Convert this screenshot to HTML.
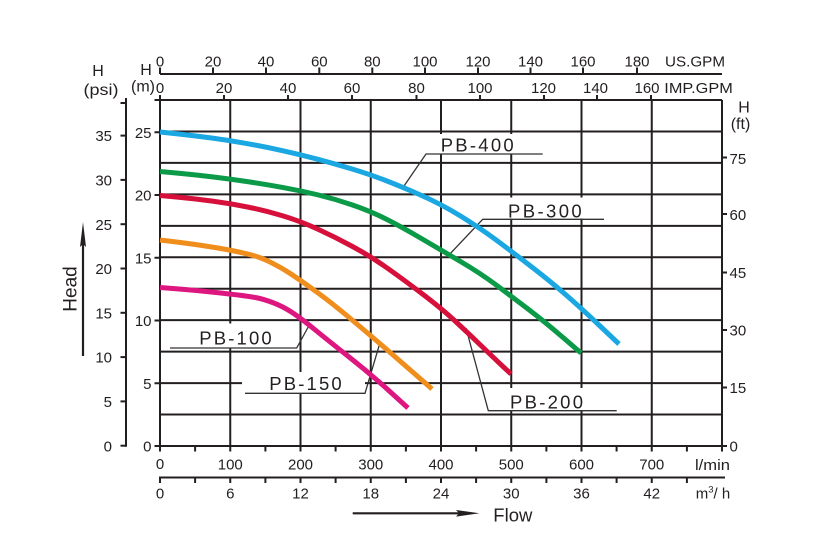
<!DOCTYPE html>
<html>
<head>
<meta charset="utf-8">
<style>
  html,body{margin:0;padding:0;background:#fff;}
  svg{display:block;}
  text{font-family:"Liberation Sans", Arial, sans-serif; fill:#231f20;}
</style>
</head>
<body>
<svg width="815" height="546" viewBox="0 0 815 546" xmlns="http://www.w3.org/2000/svg">
<rect width="815" height="546" fill="#fff"/>

<!-- grid -->
<g stroke="#231f20" stroke-width="2" fill="none">
  <line x1="154.5" y1="100" x2="722" y2="100"/>
  <line x1="160" y1="131.45" x2="722" y2="131.45"/>
  <line x1="160" y1="162.91" x2="722" y2="162.91"/>
  <line x1="160" y1="194.36" x2="722" y2="194.36"/>
  <line x1="160" y1="225.82" x2="722" y2="225.82"/>
  <line x1="160" y1="257.27" x2="722" y2="257.27"/>
  <line x1="160" y1="288.73" x2="722" y2="288.73"/>
  <line x1="160" y1="320.18" x2="722" y2="320.18"/>
  <line x1="160" y1="351.64" x2="722" y2="351.64"/>
  <line x1="160" y1="383.09" x2="722" y2="383.09"/>
  <line x1="160" y1="414.55" x2="722" y2="414.55"/>
  <line x1="154.5" y1="446" x2="727" y2="446"/>

  <line x1="160" y1="95" x2="160" y2="451.5"/>
  <line x1="230.25" y1="100" x2="230.25" y2="446"/>
  <line x1="300.5" y1="100" x2="300.5" y2="446"/>
  <line x1="370.75" y1="100" x2="370.75" y2="446"/>
  <line x1="441" y1="100" x2="441" y2="446"/>
  <line x1="511.25" y1="100" x2="511.25" y2="446"/>
  <line x1="581.5" y1="100" x2="581.5" y2="446"/>
  <line x1="651.75" y1="100" x2="651.75" y2="446"/>
  <line x1="722" y1="100" x2="722" y2="451.5"/>
</g>

<!-- top axes -->
<g stroke="#231f20" stroke-width="2" fill="none">
  <line x1="160" y1="74" x2="722" y2="74"/>
  <line x1="160" y1="67.5" x2="160" y2="74"/>
  <line x1="213" y1="67.5" x2="213" y2="74"/>
  <line x1="266" y1="67.5" x2="266" y2="74"/>
  <line x1="319.3" y1="67.5" x2="319.3" y2="74"/>
  <line x1="372.3" y1="67.5" x2="372.3" y2="74"/>
  <line x1="425" y1="67.5" x2="425" y2="74"/>
  <line x1="478" y1="67.5" x2="478" y2="74"/>
  <line x1="530.5" y1="67.5" x2="530.5" y2="74"/>
  <line x1="583" y1="67.5" x2="583" y2="74"/>
  <line x1="637" y1="67.5" x2="637" y2="74"/>

  <line x1="224" y1="95" x2="224" y2="100"/>
  <line x1="288" y1="95" x2="288" y2="100"/>
  <line x1="352" y1="95" x2="352" y2="100"/>
  <line x1="416.5" y1="95" x2="416.5" y2="100"/>
  <line x1="480" y1="95" x2="480" y2="100"/>
  <line x1="544" y1="95" x2="544" y2="100"/>
  <line x1="597" y1="95" x2="597" y2="100"/>
  <line x1="651" y1="95" x2="651" y2="100"/>
</g>

<!-- left axes -->
<g stroke="#231f20" stroke-width="2" fill="none">
  <line x1="126" y1="98" x2="126" y2="446.7"/>
  <line x1="120.5" y1="103" x2="126" y2="103"/>
  <line x1="120.5" y1="135.6" x2="126" y2="135.6"/>
  <line x1="120.5" y1="179.9" x2="126" y2="179.9"/>
  <line x1="120.5" y1="224.2" x2="126" y2="224.2"/>
  <line x1="120.5" y1="268.5" x2="126" y2="268.5"/>
  <line x1="120.5" y1="312.8" x2="126" y2="312.8"/>
  <line x1="120.5" y1="357.1" x2="126" y2="357.1"/>
  <line x1="120.5" y1="401.4" x2="126" y2="401.4"/>
  <line x1="120.5" y1="445.7" x2="126" y2="445.7"/>

  <line x1="154.5" y1="132.25" x2="160" y2="132.25"/>
  <line x1="154.5" y1="195" x2="160" y2="195"/>
  <line x1="154.5" y1="257.75" x2="160" y2="257.75"/>
  <line x1="154.5" y1="320.5" x2="160" y2="320.5"/>
  <line x1="154.5" y1="383.25" x2="160" y2="383.25"/>
</g>

<!-- right axis ticks -->
<g stroke="#231f20" stroke-width="2" fill="none">
  <line x1="722" y1="157.5" x2="727" y2="157.5"/>
  <line x1="722" y1="214" x2="727" y2="214"/>
  <line x1="722" y1="272.5" x2="727" y2="272.5"/>
  <line x1="722" y1="330" x2="727" y2="330"/>
  <line x1="722" y1="387.5" x2="727" y2="387.5"/>
</g>

<!-- bottom ticks -->
<g stroke="#231f20" stroke-width="2" fill="none">
  <line x1="195.1" y1="446" x2="195.1" y2="451.5"/>
  <line x1="230.25" y1="446" x2="230.25" y2="451.5"/>
  <line x1="265.4" y1="446" x2="265.4" y2="451.5"/>
  <line x1="300.5" y1="446" x2="300.5" y2="451.5"/>
  <line x1="335.6" y1="446" x2="335.6" y2="451.5"/>
  <line x1="370.75" y1="446" x2="370.75" y2="451.5"/>
  <line x1="405.9" y1="446" x2="405.9" y2="451.5"/>
  <line x1="441" y1="446" x2="441" y2="451.5"/>
  <line x1="476.1" y1="446" x2="476.1" y2="451.5"/>
  <line x1="511.25" y1="446" x2="511.25" y2="451.5"/>
  <line x1="546.4" y1="446" x2="546.4" y2="451.5"/>
  <line x1="581.5" y1="446" x2="581.5" y2="451.5"/>
  <line x1="616.6" y1="446" x2="616.6" y2="451.5"/>
  <line x1="651.75" y1="446" x2="651.75" y2="451.5"/>
  <line x1="686.9" y1="446" x2="686.9" y2="451.5"/>

  <line x1="159" y1="477.5" x2="725" y2="477.5"/>
  <line x1="160" y1="477.5" x2="160" y2="483"/>
  <line x1="195.1" y1="477.5" x2="195.1" y2="483"/>
  <line x1="230.25" y1="477.5" x2="230.25" y2="483"/>
  <line x1="265.4" y1="477.5" x2="265.4" y2="483"/>
  <line x1="300.5" y1="477.5" x2="300.5" y2="483"/>
  <line x1="335.6" y1="477.5" x2="335.6" y2="483"/>
  <line x1="370.75" y1="477.5" x2="370.75" y2="483"/>
  <line x1="405.9" y1="477.5" x2="405.9" y2="483"/>
  <line x1="441" y1="477.5" x2="441" y2="483"/>
  <line x1="476.1" y1="477.5" x2="476.1" y2="483"/>
  <line x1="511.25" y1="477.5" x2="511.25" y2="483"/>
  <line x1="546.4" y1="477.5" x2="546.4" y2="483"/>
  <line x1="581.5" y1="477.5" x2="581.5" y2="483"/>
  <line x1="616.6" y1="477.5" x2="616.6" y2="483"/>
  <line x1="651.75" y1="477.5" x2="651.75" y2="483"/>
  <line x1="686.9" y1="477.5" x2="686.9" y2="483"/>
</g>

<!-- label backgrounds -->
<g fill="#fff">
  <rect x="427" y="134" width="115" height="19.5"/>
  <rect x="484" y="197.5" width="120" height="21"/>
  <rect x="489" y="388" width="128" height="22"/>
  <rect x="170" y="323.5" width="127" height="24"/>
  <rect x="242" y="372" width="123" height="21"/>
</g>

<!-- label leaders -->
<g stroke="#333" stroke-width="1.3" fill="none">
  <polyline points="404,186 426,154 542.7,154"/>
  <polyline points="447.5,256.5 482.7,219.3 604,219.3"/>
  <polyline points="466,328 488.3,410.7 616.7,410.7"/>
  <polyline points="309.3,325 296.7,348 170,348"/>
  <polyline points="380,342.7 365,393.3 245,393.3"/>
</g>

<!-- curves -->
<g fill="none" stroke-width="5" stroke-linejoin="round" stroke-linecap="butt">
  <path stroke="#1aa7e2" d="M160,132 L177.5,133.9 Q195,135.8 212.5,138.15 Q230,140.5 247.5,143.65 Q265,146.8 282.5,150.65 Q300,154.5 317.5,159.15 Q335,163.8 352.5,169.15 Q370,174.5 385,180.25 Q400,186 420.5,195 Q441,204 460.5,216 Q480,228 495.5,239.5 Q511,251 530.5,266 Q550,281 565.5,294.5 Q581,308 600,326 L619,344"/>
  <path stroke="#0b9a47" d="M160,171.5 L177.5,173.15 Q195,174.8 212.5,176.9 Q230,179 247.5,181.65 Q265,184.3 282.5,187.4 Q300,190.5 317.5,194.75 Q335,199 352.5,205 Q370,211 385,218.5 Q400,226 420.5,238 Q441,250 460.5,261.5 Q480,273 495.5,284.5 Q511,296 528,309 Q545,322 563,337.5 L581,353"/>
  <path stroke="#d6103b" d="M160,195.5 L177.5,197.15 Q195,198.8 212.5,201.15 Q230,203.5 247.5,207 Q265,210.5 282.5,215.75 Q300,221 317.5,229 Q335,237 352.5,246.5 Q370,256 385,266.5 Q400,277 420.5,292.5 Q441,308 454.5,320.5 Q468,333 482,346.5 Q496,360 503.5,367 L511,374"/>
  <path stroke="#ef8e1c" d="M160,240 L177.5,242.15 Q195,244.3 212.5,247.15 Q230,250 240,252.25 Q250,254.5 256.5,256.5 Q263,258.5 272.5,263.25 Q282,268 291,274 Q300,280 315,290.75 Q330,301.5 350,318.25 Q370,335 385,348 Q400,361 416,375 L432,389"/>
  <path stroke="#dd1680" d="M160,287.5 L177.5,288.9 Q195,290.3 212.5,292.15 Q230,294 240,295.25 Q250,296.5 256.5,297.75 Q263,299 272.5,302.5 Q282,306 291,311.75 Q300,317.5 315,329.75 Q330,342 350,357.75 Q370,373.5 389,390.75 L408,408"/>
</g>

<!-- series labels -->
<g font-size="18.5">
  <text x="440.7" y="151.7" textLength="73" lengthAdjust="spacing">PB-400</text>
  <text x="508" y="217.3" textLength="73.7" lengthAdjust="spacing">PB-300</text>
  <text x="510" y="408.3" textLength="73" lengthAdjust="spacing">PB-200</text>
  <text x="199.3" y="344.3" textLength="72.4" lengthAdjust="spacing">PB-100</text>
  <text x="269.3" y="390" textLength="72.4" lengthAdjust="spacing">PB-150</text>
</g>

<!-- top axis labels -->
<g font-size="15" text-anchor="middle">
  <text x="160" y="66.5">0</text>
  <text x="213" y="66.5">20</text>
  <text x="266" y="66.5">40</text>
  <text x="319.3" y="66.5">60</text>
  <text x="372.3" y="66.5">80</text>
  <text x="425" y="66.5">100</text>
  <text x="478" y="66.5">120</text>
  <text x="530.5" y="66.5">140</text>
  <text x="583" y="66.5">160</text>
  <text x="637" y="66.5">180</text>

  <text x="160" y="93">0</text>
  <text x="224" y="93">20</text>
  <text x="288" y="93">40</text>
  <text x="352" y="93">60</text>
  <text x="416.5" y="93">80</text>
  <text x="480" y="93">100</text>
  <text x="543.5" y="93">120</text>
  <text x="595.5" y="93">140</text>
  <text x="647" y="93">160</text>
</g>
<text x="665" y="66.5" font-size="15" textLength="60" lengthAdjust="spacingAndGlyphs">US.GPM</text>
<text x="664.3" y="93" font-size="15" textLength="68.5" lengthAdjust="spacingAndGlyphs">IMP.GPM</text>

<!-- axis titles -->
<g font-size="16" text-anchor="middle">
  <text x="98" y="76">H</text>
  <text x="101" y="95" textLength="35" lengthAdjust="spacingAndGlyphs">(psi)</text>
  <text x="146" y="75">H</text>
  <text x="143" y="91.5">(m)</text>
  <text x="744" y="112.7">H</text>
  <text x="740.5" y="129">(ft)</text>
</g>

<!-- left labels psi / m -->
<g font-size="15" text-anchor="end">
  <text x="112" y="141.2">35</text>
  <text x="112" y="185.5">30</text>
  <text x="112" y="229.8">25</text>
  <text x="112" y="274.1">20</text>
  <text x="112" y="318.4">15</text>
  <text x="112" y="362.7">10</text>
  <text x="112" y="407">5</text>
  <text x="112" y="451.3">0</text>

  <text x="151.5" y="137.8">25</text>
  <text x="151.5" y="200.6">20</text>
  <text x="151.5" y="263.3">15</text>
  <text x="151.5" y="326.1">10</text>
  <text x="151.5" y="388.8">5</text>
  <text x="151.5" y="451.6">0</text>
</g>

<!-- right labels ft -->
<g font-size="15">
  <text x="729.5" y="163.8">75</text>
  <text x="729.5" y="220">60</text>
  <text x="729.5" y="278.2">45</text>
  <text x="729.5" y="335.7">30</text>
  <text x="729.5" y="393.2">15</text>
  <text x="729.5" y="451.3">0</text>
</g>

<!-- bottom labels -->
<g font-size="15" text-anchor="middle">
  <text x="160" y="469">0</text>
  <text x="230.25" y="469.7">100</text>
  <text x="300.5" y="469.7">200</text>
  <text x="370.75" y="469.7">300</text>
  <text x="441" y="469.7">400</text>
  <text x="511.25" y="469.7">500</text>
  <text x="581.5" y="469.7">600</text>
  <text x="651.75" y="469.7">700</text>

  <text x="160" y="498.5">0</text>
  <text x="230.25" y="498.5">6</text>
  <text x="300.5" y="498.5">12</text>
  <text x="370.75" y="498.5">18</text>
  <text x="441" y="498.5">24</text>
  <text x="511.25" y="498.5">30</text>
  <text x="581.5" y="498.5">36</text>
  <text x="651.75" y="498.5">42</text>
</g>
<text x="695" y="470" font-size="15" textLength="35" lengthAdjust="spacingAndGlyphs">l/min</text>
<text x="695.7" y="498.3" font-size="15">m<tspan font-size="9.5" dy="-6">3</tspan><tspan dy="6">/ h</tspan></text>

<!-- Head arrow -->
<line x1="83" y1="356" x2="83" y2="240" stroke="#231f20" stroke-width="2.2"/>
<polygon points="83,222 80,247 83,244 86,247" fill="#231f20"/>
<text transform="translate(76.5,289) rotate(-90)" font-size="19" text-anchor="middle">Head</text>

<!-- Flow arrow -->
<line x1="352.7" y1="513.3" x2="462" y2="513.3" stroke="#231f20" stroke-width="2.2"/>
<polygon points="479.5,513.3 456,510 459,513.3 456,516.6" fill="#231f20"/>
<text x="493.3" y="521.7" font-size="18.5">Flow</text>

</svg>
</body>
</html>
